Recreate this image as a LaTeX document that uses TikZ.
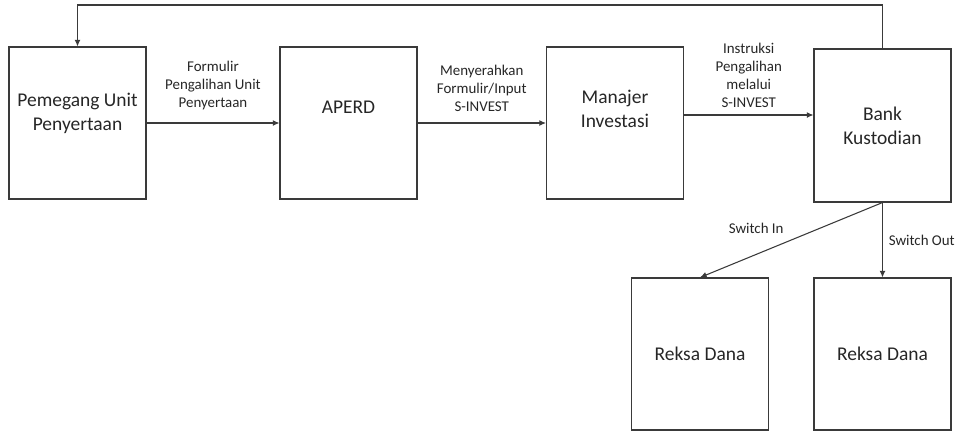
\documentclass[tikz,border=0pt]{standalone}
\usepackage{fontspec}
\setmainfont{Carlito}
\usetikzlibrary{arrows.meta, positioning}
\definecolor{LineGray}{HTML}{3A3A3A}
\definecolor{TextGray}{HTML}{262626}

\begin{document}
\begin{tikzpicture}[x=0.75pt, y=-0.75pt,
    box/.style={draw=LineGray, line width=0.8pt, minimum width=102.75pt, minimum height=114pt, inner sep=0pt},
    boxtext/.style={font=\fontsize{14.6}{18}\selectfont, align=center, text=TextGray},
    flowlabel/.style={font=\fontsize{11.2}{13.5}\selectfont, align=center, text=TextGray},
    arr/.style={draw=LineGray, line width=0.8pt, -{Latex[length=5pt, width=4.5pt]}}]
\useasboundingbox (0,0) rectangle (960,433);

% main row
\node[box, label={[boxtext, yshift=7pt]center:Pemegang Unit\\Penyertaan}] (holder) at (77.5,123) {};
\node[box, label={[boxtext, yshift=12pt]center:APERD}] (aperd) at (348.5,123) {};
\node[box, label={[boxtext, yshift=10.5pt]center:Manajer\\Investasi}] (mi) at (615,123) {};
\node[box, minimum height=114.75pt, label={[boxtext]center:Bank\\Kustodian}] (bk) at (882.5,125.5) {};

% funds
\node[box, label={[boxtext]center:Reksa Dana}] (rd1) at (700,354) {};
\node[box, label={[boxtext]center:Reksa Dana}] (rd2) at (882.5,354) {};

\coordinate (topline) at (0,5);

% flows
\draw[arr] (holder.east) -- node[flowlabel, above=6pt] {Formulir\\Pengalihan Unit\\Penyertaan} (aperd.west);
\draw[arr] (aperd.east) -- node[flowlabel, above=5pt] {Menyerahkan\\Formulir/Input\\S-INVEST} (mi.west);
\draw[arr] (mi.east) ++(0,-8) coordinate (mi out) -- node[flowlabel, above=2pt] {Instruksi\\Pengalihan\\melalui\\S-INVEST} (mi out -| bk.west);
\draw[arr] (bk.north) -- (bk.north |- topline) -- (holder.north |- topline) -- (holder.north);
\draw[arr] (bk.south) -- node[flowlabel, above left=1pt and 2pt] {Switch In} (rd1.north);
\draw[arr] (bk.south) -- node[flowlabel, right=1pt] {Switch Out} (rd2.north);
\end{tikzpicture}
\end{document}
